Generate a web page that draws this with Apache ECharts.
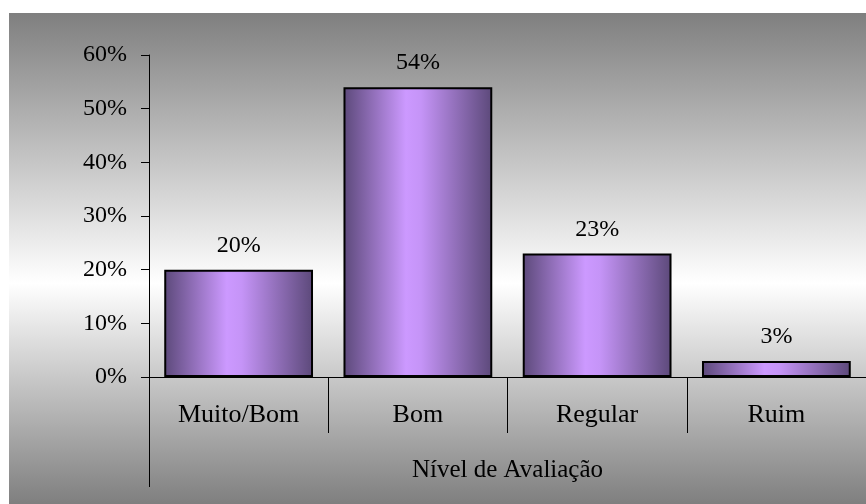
<!DOCTYPE html>
<html>
<head>
<meta charset="utf-8">
<script src="https://cdn.jsdelivr.net/npm/echarts@6/dist/echarts.min.js"></script>
<style>html,body{margin:0;padding:0;background:#fff}#c{width:866px;height:504px}</style>
</head>
<body>
<div id="c"></div>
<script>
var categories = ['Muito/Bom', 'Bom', 'Regular', 'Ruim'];
var values = [20, 54, 23, 3];
var axisName = 'Nível de Avaliação';
var yMax = 60, yStep = 10;

var chart = echarts.init(document.getElementById('c'), null, {renderer: 'canvas'});
var font = 'Liberation Serif';
chart.setOption({
  backgroundColor: '#ffffff',
  animation: false,
  graphic: [
    {type: 'rect', z: -10, silent: true,
     shape: {x: 9, y: 13, width: 857, height: 491},
     style: {fill: new echarts.graphic.LinearGradient(0, 0, 0, 1, [
       {offset: 0, color: '#7f7f7f'},
       {offset: 0.55, color: '#ffffff'},
       {offset: 1, color: '#7f7f7f'}
     ])}},
    {type: 'line', z: 10, silent: true,
     shape: {x1: 149.5, y1: 377, x2: 149.5, y2: 487},
     style: {stroke: '#000', lineWidth: 1}}
  ],
  grid: {left: 149, right: 0, top: 55, bottom: 127},
  xAxis: {
    type: 'category',
    data: categories,
    name: axisName,
    nameLocation: 'middle',
    nameGap: 81,
    nameTextStyle: {fontFamily: font, fontSize: 25, color: '#000'},
    axisLine: {lineStyle: {color: '#000', width: 1}},
    axisTick: {show: true, length: 56, lineStyle: {color: '#000'}},
    axisLabel: {fontFamily: font, fontSize: 26, color: '#000', margin: 25}
  },
  yAxis: {
    type: 'value',
    min: 0, max: yMax, interval: yStep,
    axisLine: {show: true, lineStyle: {color: '#000', width: 1}},
    axisTick: {show: true, length: 8, lineStyle: {color: '#000'}},
    splitLine: {show: false},
    axisLabel: {fontFamily: font, fontSize: 24, color: '#000', margin: 22, formatter: '{value}%'}
  },
  series: [{
    type: 'bar',
    data: values,
    barWidth: '83%',
    itemStyle: {
      borderColor: '#000',
      borderWidth: 2,
      color: new echarts.graphic.LinearGradient(0, 0, 1, 0, [
        {offset: 0, color: '#5c497a'},
        {offset: 0.42, color: '#cc99ff'},
        {offset: 0.52, color: '#c594f7'},
        {offset: 1, color: '#5c497a'}
      ])
    },
    label: {show: true, position: 'top', distance: 12, fontFamily: font, fontSize: 24, color: '#000', formatter: '{c}%'}
  }]
});
</script>
</body>
</html>
